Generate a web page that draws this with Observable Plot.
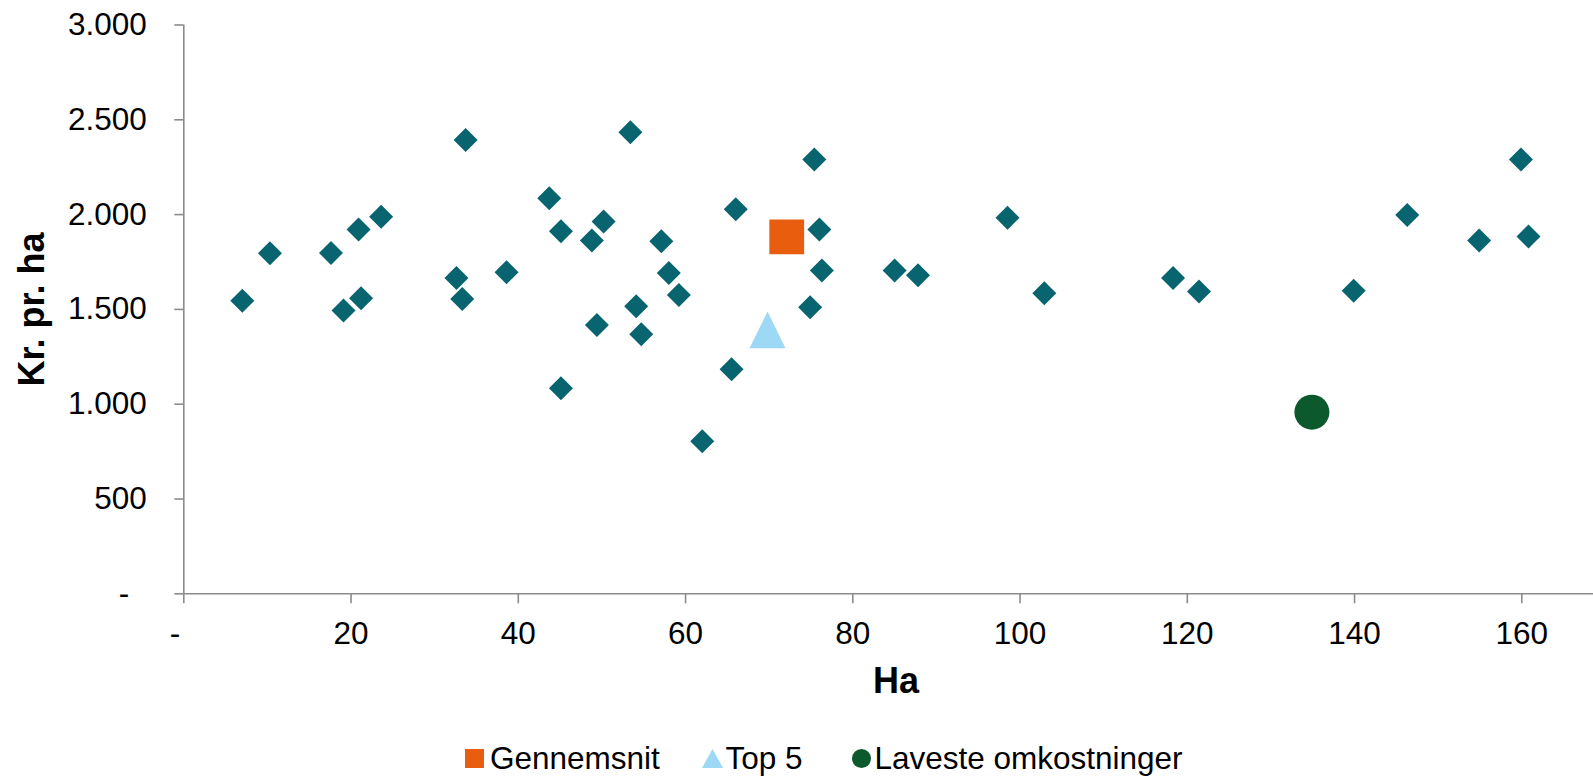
<!DOCTYPE html>
<html>
<head>
<meta charset="utf-8">
<script src="https://cdn.jsdelivr.net/npm/d3@7"></script>
<script src="https://cdn.jsdelivr.net/npm/@observablehq/plot@0.6"></script>
<style>
  html, body { margin: 0; padding: 0; background: #fff; }
  body { width: 1593px; height: 777px; overflow: hidden; font-family: "Liberation Sans", Arial, sans-serif; }
  #chart svg { display: block; }
  #legend { position: relative; width: 1593px; height: 72px; font-size: 31.5px; line-height: 1; color: #000; }
  #legend .sw { position: absolute; }
  #legend .lb { position: absolute; white-space: nowrap; }
</style>
</head>
<body>
<div id="chart"></div>
<div id="legend"></div>
<script>
// ---- Data ----
const farmHa = [7.0,10.3,17.6,19.1,20.9,21.2,23.6,32.6,33.3,33.7,38.6,43.7,45.1,45.1,48.8,49.4,50.2,53.4,54.1,54.7,57.1,58.0,59.2,62.0,65.5,66.0,74.9,75.4,76.0,76.3,85.0,87.8,98.5,102.9,118.3,121.4,139.9,146.3,154.9,159.9,160.8];
const farmKr = [1546,1796,1798,1494,1921,1559,1989,1666,1555,2394,1696,2086,1912,1084,1863,1418,1963,2434,1516,1369,1859,1692,1576,805,1184,2028,1511,2291,1922,1705,1705,1680,1984,1585,1666,1595,1599,1998,1864,2291,1884];

const seriesNames = ["Gennemsnit", "Top 5", "Laveste omkostninger"];
const seriesHa = [72.1, 69.8, 134.9];
const seriesKr = [1882, 1392, 958];

const xTicks = [0, 20, 40, 60, 80, 100, 120, 140, 160];
const yTicks = [0, 500, 1000, 1500, 2000, 2500, 3000];

const xTitle = "Ha";
const yTitle = "Kr. pr. ha";

// ---- Styles ----
const colDiamond = "#08646f";
const colSquare = "#e85d0e";
const colTriangle = "#9dd8f5";
const colCircle = "#0c592e";
const axisGray = "#8c8c8c";

// custom symbols (size = pi * r^2)
const symDiamond = { draw(ctx, size) { const h = Math.sqrt(size / Math.PI); ctx.moveTo(0, -h); ctx.lineTo(h, 0); ctx.lineTo(0, h); ctx.lineTo(-h, 0); ctx.closePath(); } };
const symSquare = { draw(ctx, size) { const h = Math.sqrt(size / Math.PI); ctx.rect(-h, -h, 2 * h, 2 * h); } };
const symTriangle = { draw(ctx, size) { const h = Math.sqrt(size / Math.PI); ctx.moveTo(0, -h * 1.02); ctx.lineTo(h, h * 1.02); ctx.lineTo(-h, h * 1.02); ctx.closePath(); } };
const symCircle = { draw(ctx, size) { const h = Math.sqrt(size / Math.PI); ctx.moveTo(h, 0); ctx.arc(0, 0, h, 0, 2 * Math.PI); } };

const farms = farmHa.map((x, i) => ({ x, y: farmKr[i] }));
const series = seriesNames.map((name, i) => ({ name, x: seriesHa[i], y: seriesKr[i] }));

const W = 1593, H = 705;
const x0 = 183.3, yBottom = 593.3, yTop = 24.5;
const pxPerHa = 8.3625;
const xMax = (W - x0) / pxPerHa;

const fmtY = d => d === 0 ? "-\u00a0\u00a0" : d3.format(",")(d).replace(/,/g, ".");
const fmtX = d => d === 0 ? "-\u00a0\u00a0" : String(d);

const plot = Plot.plot({
  width: W,
  height: H,
  marginLeft: x0,
  marginRight: 0,
  marginTop: yTop,
  marginBottom: H - yBottom,
  style: { fontFamily: "'Liberation Sans', Arial, sans-serif", fontSize: "31.5px", color: "#000", background: "#fff", overflow: "visible" },
  x: { domain: [0, xMax] },
  y: { domain: [0, 3000] },
  marks: [
    Plot.ruleX([0], { y1: 0, y2: 3000, stroke: axisGray, strokeWidth: 1.6 }),
    Plot.ruleY([0], { x1: 0, x2: xMax, stroke: axisGray, strokeWidth: 1.6 }),
    Plot.axisY({ ticks: yTicks, tickSize: 9, tickPadding: 28, tickFormat: fmtY, stroke: axisGray, strokeWidth: 1.6, fill: "#000", label: null, fontSize: 31.5 }),
    Plot.axisX({ ticks: xTicks, tickSize: 10, tickPadding: 18, tickFormat: fmtX, stroke: axisGray, strokeWidth: 1.6, fill: "#000", label: null, fontSize: 31.5 }),
    Plot.text([yTitle], { text: d => d, frameAnchor: "left", textAnchor: "middle", lineAnchor: "middle", rotate: -90, dx: 31.5 - x0, fontWeight: "bold", fontSize: 36, fill: "#000" }),
    Plot.text([xTitle], { text: d => d, frameAnchor: "bottom", textAnchor: "middle", lineAnchor: "middle", dx: 895.5 - (x0 + W) / 2, dy: 87.2, fontWeight: "bold", fontSize: 36, fill: "#000" }),
    Plot.dot(farms, { x: "x", y: "y", symbol: symDiamond, r: 12, fill: colDiamond, stroke: null }),
    Plot.dot([series[0]], { x: "x", y: "y", symbol: symSquare, r: 17.4, fill: colSquare, stroke: null }),
    Plot.dot([series[1]], { x: "x", y: "y", symbol: symTriangle, r: 18, fill: colTriangle, stroke: null }),
    Plot.dot([series[2]], { x: "x", y: "y", symbol: symCircle, r: 17.5, fill: colCircle, stroke: null })
  ]
});
document.getElementById("chart").appendChild(plot);

// ---- Legend (HTML below the SVG) ----
const legend = document.getElementById("legend");
const items = [
  { name: seriesNames[0], color: colSquare, shape: "square", swLeft: 465, txtLeft: 490 },
  { name: seriesNames[1], color: colTriangle, shape: "triangle", swLeft: 702.3, txtLeft: 725.5 },
  { name: seriesNames[2], color: colCircle, shape: "circle", swLeft: 851.7, txtLeft: 874.4 }
];
items.forEach(it => {
  const s = document.createElementNS("http://www.w3.org/2000/svg", "svg");
  const w = it.shape === "triangle" ? 21 : 19;
  s.setAttribute("width", w); s.setAttribute("height", 19);
  s.setAttribute("class", "sw");
  s.style.left = it.swLeft + "px";
  s.style.top = "44.3px";
  let shape;
  if (it.shape === "square") {
    shape = document.createElementNS("http://www.w3.org/2000/svg", "rect");
    shape.setAttribute("width", 19); shape.setAttribute("height", 19);
  } else if (it.shape === "triangle") {
    shape = document.createElementNS("http://www.w3.org/2000/svg", "path");
    shape.setAttribute("d", "M10.5,0L21,19L0,19Z");
  } else {
    shape = document.createElementNS("http://www.w3.org/2000/svg", "circle");
    shape.setAttribute("cx", 9.5); shape.setAttribute("cy", 9.5); shape.setAttribute("r", 9.5);
  }
  shape.setAttribute("fill", it.color);
  s.appendChild(shape);
  legend.appendChild(s);
  const t = document.createElement("span");
  t.className = "lb";
  t.textContent = it.name;
  t.style.left = it.txtLeft + "px";
  t.style.top = "37.8px";
  legend.appendChild(t);
});
</script>
</body>
</html>
